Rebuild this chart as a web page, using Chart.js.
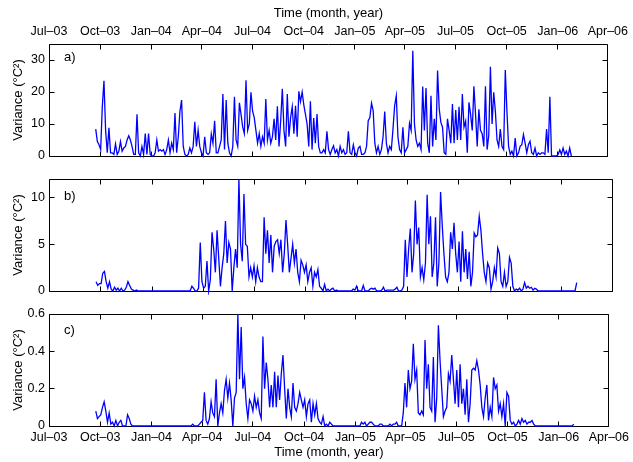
<!DOCTYPE html>
<html>
<head>
<meta charset="utf-8">
<script src="https://cdn.jsdelivr.net/npm/chart.js@4"></script>
<style>
  html, body { margin: 0; padding: 0; background: #fff; }
  #wrap { position: relative; width: 633px; height: 462px; }
  #wrap canvas { position: absolute; left: 0; top: 0; }
</style>
</head>
<body>
<div id="wrap">
  <canvas id="chartA" width="633" height="462"></canvas>
  <canvas id="chartB" width="633" height="462"></canvas>
  <canvas id="chartC" width="633" height="462"></canvas>
</div>
<script>
// Quarter ticks, in days since 1 Jul 2003
const quarterDays = [0, 92, 184, 275, 366, 458, 550, 640, 731, 823, 915, 1005];
const quarterLabels = ['Jul–03', 'Oct–03', 'Jan–04', 'Apr–04', 'Jul–04', 'Oct–04',
                       'Jan–05', 'Apr–05', 'Jul–05', 'Oct–05', 'Jan–06', 'Apr–06'];

// First sample ~23 Sep 2003, sampled every ~3 days
const startDay = 84;
const stepA = 2.97;
const stepBC = 3;

// a) variance (degC^2)
const varianceA = [
  8.4, 4.5, 3.5, 2, 15.5, 23.5, 8, 1, 8.8, 1,
  1, 0.5, 3.8, 0.5, 1.5, 4.5, 1.5, 2.5, 3, 5,
  6.3, 5, 3, 0.5, 0.5, 13, 1, 0, 3, 0.5,
  7, 0.5, 7, 0.5, 0, 0, 1, 5, 1.5, 2,
  1.5, 2, 0.5, 2, 5, 1, 4, 2, 13.4, 1,
  6, 14, 17.5, 3, 0.5, 0, 0.5, 2.5, 1, 3,
  10.7, 3, 8, 3, 1, 0, 6, 1, 0.5, 1,
  6.9, 4, 11, 1, 1, 3, 5, 19.4, 2, 17.5,
  4, 1, 0, 3, 18.5, 5, 3, 16.6, 13, 9,
  7, 23.7, 8, 10, 19.9, 14, 12, 8,
  4, 7, 3, 6, 4, 17.8, 5, 8, 4, 6,
  11.6, 5, 15.5, 3, 11, 21, 8, 3, 19.4, 6,
  12, 15.4, 7, 15.7, 6, 20.2, 17, 20, 16, 13,
  10, 3, 17.1, 2, 11.9, 4, 13.1, 3, 1, 1,
  2, 1, 7.7, 2, 0.5, 2, 3.2, 1, 2, 0,
  3, 1, 2, 0.5, 1, 7.7, 1, 0.5, 3.5, 1,
  0, 2.5, 3, 0.5, 0.5, 1, 3, 11, 12, 16.5,
  14.2, 4, 1, 3, 0.5, 2, 6, 13.9, 4, 1,
  3, 2, 8.4, 15.7, 18.8, 6, 2, 1, 9, 1,
  2, 3, 10.2, 8, 32.9, 10, 5, 3, 4,
  2, 21.7, 8, 21.25, 4, 1, 18.8, 3, 11.6, 5, 26.7,
  14.7, 10.5, 9, 1, 0.5, 11.6, 8, 4, 16.25, 4,
  14.4, 5, 15.4, 5, 19.4, 9, 10.9, 1, 16.8, 13,
  8, 21.8, 13, 3, 14.6, 8, 7, 3, 21.8, 2,
  6.5, 27.9, 10, 19.9, 14, 5, 3, 8.4, 3, 2,
  26.9, 14, 3, 0.5, 1.5, 0, 5.6, 0, 1, 3,
  3.5, 6.7, 4, 1, 3.5, 4.6, 1, 0.5, 2.5, 0,
  1, 0.5, 1, 1, 0.5, 8.4, 1, 18.5, 0, 0,
  0, 0, 0.5, 1.9, 0.5, 2.5, 0.5, 1.5, 0, 2.5,
  0
];

// b) variance (degC^2)
const varianceB = [
  1.0, 0.6, 0.8, 0.8, 1.9, 2.1, 1.0, 0.3, 1.0, 0.2,
  0, 0.4, 0.1, 0.3, 0, 0.3, 0, 0.1, 0.4, 1.0,
  0.6, 0.2, 0.1, 0, 0.1, 0, 0, 0, 0, 0,
  0, 0, 0, 0, 0, 0, 0, 0, 0, 0,
  0, 0, 0, 0, 0, 0, 0, 0, 0, 0,
  0, 0, 0, 0, 0, 0, 0, 0.5, 0.3, 0,
  0, 0.3, 5.2, 1, 0.3, 0.5, 3.2, 0, 1.2, 6.3,
  4.5, 2, 6.5, 3.5, 0.5, 2.5, 4, 7.5, 3, 5.2,
  4.5, 0, 2.5, 4.5, 2.5, 12, 5, 3.2, 10.4, 5,
  4.8, 1.5, 2.5, 1.5, 2.7, 1, 2.5, 1.5, 1, 1,
  7.9, 4, 6.5, 3, 6, 2, 4.8, 5.3, 5.5, 4,
  5.5, 2, 4, 7.6, 5, 2, 3.5, 5, 3, 4.5,
  2, 1, 3.3, 2.8, 2, 2.8, 1, 2, 2.5, 0.5,
  2, 1.5, 2.3, 0.5, 0.3, 0, 0.7, 0, 0.2, 0,
  0.2, 0.3, 0, 0.1, 0, 0, 0, 0, 0, 0,
  0, 0, 0, 0.2, 0.1, 0.5, 0, 0, 0, 0.6,
  0, 0, 0, 0.2, 0.3, 0.2, 0.3, 0, 0, 0,
  0.1, 0.4, 0, 0.1, 0.1, 0.1, 0.1, 0.1, 0.2, 0.4,
  0, 0, 0.1, 0.5, 5.5, 1.5, 4.5, 6.7, 2, 4,
  9.7, 5, 6.8, 1.5, 2.5, 1.2, 3, 10.3, 5, 8,
  1.5, 3, 7.9, 0.5, 3, 10.6, 7, 4, 1.5, 1,
  2, 6.3, 4.5, 7.3, 4, 2, 5.3, 1, 6.4, 2,
  4.5, 1.3, 4.2, 0.5, 2, 6.2, 5.8, 6, 8, 6.5,
  4, 2, 1, 3, 2.5, 0.2, 1, 2.5, 1.5, 4.6,
  4, 1, 0.5, 2, 0.5, 1, 3.6, 3, 0.5, 0,
  0.2, 0.1, 0.3, 0, 0.2, 0.9, 0.3, 0.5, 0.3, 0.4,
  0.1, 0.3, 0.2, 0, 0, 0, 0, 0, 0, 0,
  0, 0, 0, 0, 0, 0, 0, 0, 0, 0,
  0, 0, 0, 0, 0, 0, 0.9
];

// c) variance (degC^2)
const varianceC = [
  0.08, 0.04, 0.05, 0.06, 0.1, 0.13, 0.08, 0.02, 0.07, 0.01,
  0.02, 0, 0.03, 0, 0.02, 0.03, 0, 0, 0, 0.06,
  0.04, 0.01, 0, 0, 0, 0, 0, 0, 0, 0,
  0, 0, 0, 0, 0, 0, 0, 0, 0, 0,
  0, 0, 0, 0, 0, 0, 0, 0, 0, 0,
  0, 0, 0, 0, 0, 0, 0, 0, 0.01, 0,
  0, 0, 0.01, 0.02, 0.03, 0.18, 0.03, 0.01, 0.04, 0.13,
  0.07, 0.05, 0.25, 0, 0.07, 0.12, 0.07, 0.19, 0.25, 0.15,
  0.23, 0.14, 0, 0.15, 0.18, 0.6, 0.25, 0.53, 0.2, 0.26,
  0.12, 0.04, 0.14, 0.12, 0.08, 0.16, 0.1, 0.14, 0.07, 0.04,
  0.48, 0.2, 0.34, 0.25, 0.1, 0.22, 0.1, 0.29, 0.1, 0.27,
  0.14, 0.28, 0.38, 0.2, 0.04, 0.2, 0.1, 0.05, 0.23, 0.1,
  0.08, 0.12, 0.18, 0.14, 0.1, 0.14, 0.05, 0.12, 0.14, 0.02,
  0.12, 0.06, 0.12, 0.04, 0.02, 0.01, 0.05, 0, 0.01, 0,
  0.02, 0.01, 0, 0, 0, 0, 0, 0, 0, 0,
  0, 0, 0, 0, 0, 0, 0, 0, 0, 0.02,
  0.01, 0.02, 0, 0.01, 0.02, 0.02, 0.01, 0, 0, 0,
  0.01, 0.01, 0, 0, 0, 0, 0.01, 0, 0.01, 0.01,
  0.02, 0, 0, 0, 0.07, 0.23, 0.1, 0.3, 0.2, 0.24,
  0.44, 0.25, 0.3, 0.07, 0.06, 0.08, 0.06, 0.46, 0.2, 0.33,
  0.1, 0.08, 0.37, 0.02, 0.15, 0.54, 0.35, 0.2, 0.05, 0.08,
  0.1, 0.28, 0.24, 0.38, 0.25, 0.12, 0.3, 0.1, 0.33, 0.12,
  0.2, 0.06, 0.25, 0.02, 0.12, 0.3, 0.31, 0.3, 0.35, 0.3,
  0.22, 0.1, 0.05, 0.15, 0.22, 0.03, 0.1, 0.05, 0.26, 0.2,
  0.22, 0.08, 0.12, 0.05, 0.12, 0, 0.18, 0.16, 0.03, 0.01,
  0.02, 0, 0.01, 0.03, 0.01, 0.04, 0.02, 0.03, 0.01, 0.02,
  0.02, 0.03, 0.01, 0, 0, 0, 0, 0, 0, 0,
  0, 0, 0, 0, 0, 0, 0, 0, 0, 0,
  0, 0, 0, 0, 0, 0, 0.01
];

const yTicksA = [0, 10, 20, 30];
const yTicksB = [0, 5, 10];
const yTicksC = [0, 0.2, 0.4, 0.6];

const FONT = "'Liberation Sans', Arial, Helvetica, sans-serif";
Chart.defaults.font.family = FONT;
Chart.defaults.color = '#000';

// box around the axes with inward ticks on all four sides, plus the panel letter
const frameTicks = {
  id: 'frameTicks',
  beforeDatasetsDraw(chart, args, opts) {
    const { ctx, chartArea: area, scales } = chart;
    const l = Math.floor(area.left) + 0.5, r = Math.floor(area.right) + 0.5;
    const t = Math.floor(area.top) + 0.5, b = Math.floor(area.bottom) + 0.5;
    ctx.save();
    ctx.strokeStyle = '#000';
    ctx.lineWidth = 1;
    ctx.beginPath();
    ctx.rect(l, t, r - l, b - t);
    quarterDays.forEach(d => {
      const px = Math.floor(scales.x.getPixelForValue(d)) + 0.5;
      ctx.moveTo(px, t); ctx.lineTo(px, t + 5);
      ctx.moveTo(px, b); ctx.lineTo(px, b - 5);
    });
    opts.yTicks.forEach(v => {
      const py = Math.floor(scales.y.getPixelForValue(v)) + 0.5;
      ctx.moveTo(l, py); ctx.lineTo(l + 5, py);
      ctx.moveTo(r, py); ctx.lineTo(r - 5, py);
    });
    ctx.stroke();
    ctx.font = '13px ' + FONT;
    ctx.fillStyle = '#000';
    ctx.textBaseline = 'middle';
    ctx.fillText(opts.label, area.left + 15, opts.labelY);
    ctx.restore();
  }
};

function makeChart(id, values, step, yTicks, yMax, label, labelY, xPos, padTop, padBottom, xHeight) {
  return new Chart(document.getElementById(id), {
    type: 'line',
    data: {
      datasets: [{
        data: values.map((v, i) => ({ x: startDay + i * step, y: v })),
        borderColor: '#0000ff',
        borderWidth: 1.3,
        pointRadius: 0,
        tension: 0,
        fill: false,
        clip: 4
      }]
    },
    options: {
      responsive: false,
      animation: false,
      events: [],
      layout: { padding: { left: 0, right: 21, top: padTop, bottom: padBottom } },
      plugins: {
        legend: { display: false },
        tooltip: { enabled: false },
        frameTicks: { yTicks: yTicks, label: label, labelY: labelY }
      },
      scales: {
        x: {
          type: 'linear',
          display: xPos !== null,
          position: xPos || 'bottom',
          min: 0,
          max: 1005,
          afterBuildTicks: s => { s.ticks = quarterDays.map(v => ({ value: v })); },
          afterFit: s => { s.height = xHeight; },
          grid: { display: false, drawTicks: false },
          border: { display: false },
          ticks: {
            autoSkip: false,
            maxRotation: 0,
            padding: xPos === 'top' ? 5 : 4,
            font: { size: 12.5 },
            callback: (v, i) => quarterLabels[i]
          },
          title: {
            display: true,
            text: 'Time (month, year)',
            font: { size: 13 },
            padding: xPos === 'top' ? { top: 6, bottom: 0 } : { top: 0, bottom: 2 }
          }
        },
        y: {
          min: 0,
          max: yMax,
          afterBuildTicks: s => { s.ticks = yTicks.map(v => ({ value: v })); },
          afterFit: s => { s.width = 49; },
          grid: { display: false, drawTicks: false },
          border: { display: false },
          ticks: { padding: 4, font: { size: 12.5 }, callback: v => String(v) },
          title: {
            display: true,
            text: 'Variance (°C²)',
            font: { size: 13 },
            padding: { top: 11, bottom: 0 }
          }
        }
      }
    },
    plugins: [frameTicks]
  });
}

makeChart('chartA', varianceA, stepA, yTicksA, 35, 'a)', 57, 'top', 0, 306, 44);
makeChart('chartB', varianceB, stepBC, yTicksB, 12, 'b)', 196, null, 179, 171, 0);
makeChart('chartC', varianceC, stepBC, yTicksC, 0.6, 'c)', 330, 'bottom', 314, 0, 36);
</script>
</body>
</html>
